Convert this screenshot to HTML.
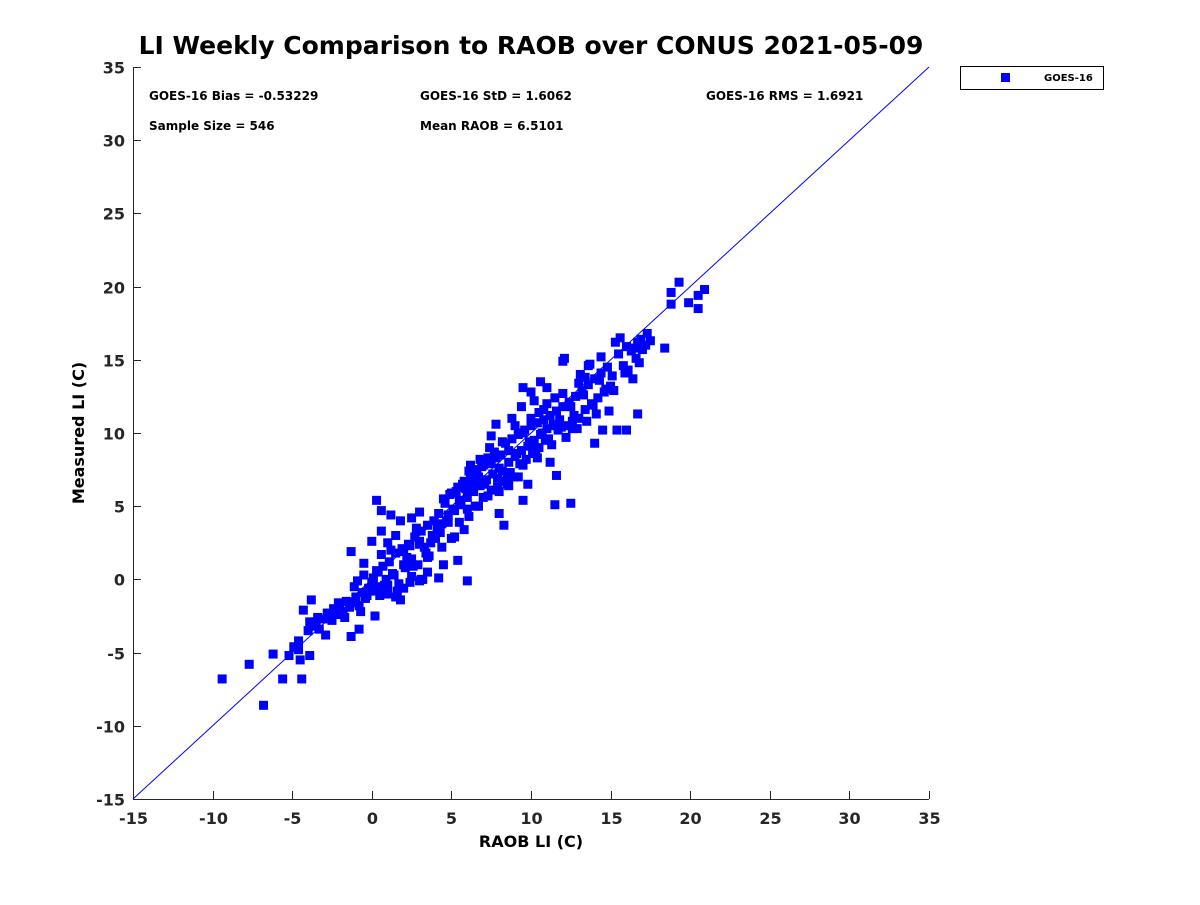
<!DOCTYPE html>
<html><head><meta charset="utf-8"><style>
html,body{margin:0;padding:0;background:#fff;}
svg text{font-family:"DejaVu Sans","Liberation Sans",sans-serif;font-weight:bold;}
</style></head><body>
<svg id="chart" width="1200" height="900" xmlns="http://www.w3.org/2000/svg">
<rect width="1200" height="900" fill="#fff"/>
<text x="531" y="54" font-size="25" text-anchor="middle">LI Weekly Comparison to RAOB over CONUS 2021-05-09</text>
<g id="axes"></g>
<g id="marks"></g>
<text x="149" y="100" font-size="12">GOES-16 Bias = -0.53229</text>
<text x="420" y="100" font-size="12">GOES-16 StD = 1.6062</text>
<text x="706" y="100" font-size="12">GOES-16 RMS = 1.6921</text>
<text x="149" y="130" font-size="12">Sample Size = 546</text>
<text x="420" y="130" font-size="12">Mean RAOB = 6.5101</text>
<g>
<rect x="960.5" y="66.5" width="143" height="23" fill="#fff" stroke="#000" stroke-width="1"/>
<rect x="1001" y="73" width="9" height="9" fill="#0000ff"/>
<text x="1044" y="81" font-size="10">GOES-16</text>
</g>
<text x="531" y="847" font-size="16" text-anchor="middle">RAOB LI (C)</text>
<text x="84" y="433" font-size="16" text-anchor="middle" transform="rotate(-90 84 433)">Measured LI (C)</text>
</svg>
<script>
const xTicks=[-15,-10,-5,0,5,10,15,20,25,30,35];
const yTicks=[-15,-10,-5,0,5,10,15,20,25,30,35];
const xs=[-9.4,-7.7,-6.8,-6.2,-5.6,-5.2,-4.9,-4.6,-4.4,-4.5,-4.6,-4.3,-3.9,-3.8,-1.3,-0.8,0.2,0.3,0.6,0.6,6.0,5.4,11.5,12.5,11.6,8.3,9.5,8.0,14.0,15.4,16.0,16.7,18.4,19.3,18.8,19.9,20.5,20.9,20.5,18.8,17.3,12.0,9.5,10.6,-1.3,
-4.0,-3.7,-3.5,-3.3,-3.0,-2.8,-2.6,-2.4,-2.2,-2.0,-1.8,-1.6,-1.4,-1.2,-1.0,-0.8,-0.6,-0.4,-0.2,0.0,-3.9,-3.4,-2.9,-2.5,-2.1,-1.7,-1.1,-0.9,-0.7,-0.5,-0.3,
0.1,0.3,0.5,0.7,0.9,1.1,1.3,1.5,1.7,1.9,2.1,2.3,2.5,2.7,2.9,3.1,3.3,3.5,3.7,3.9,0.2,0.6,1.0,1.4,1.8,2.2,2.6,3.0,3.4,3.8,0.4,0.8,1.2,1.6,2.0,2.4,2.8,3.2,3.6,4.0,
1.0,1.5,2.0,2.5,3.0,1.2,1.8,2.4,3.1,-0.5,-1.0,0.0,0.5,1.0,1.5,2.0,2.5,3.0,3.5,4.2,4.5,4.8,5.0,4.4,4.1,
4.2,4.4,4.6,4.8,5.0,5.2,5.4,5.6,5.8,6.0,6.2,6.4,6.6,6.8,7.0,7.2,7.4,7.6,7.8,8.0,4.3,4.7,5.1,5.5,5.9,6.3,6.7,7.1,7.5,7.9,4.5,4.9,5.3,5.7,6.1,6.5,6.9,7.3,7.7,8.1,
6.0,6.5,7.0,7.5,8.0,8.5,6.2,6.8,7.4,8.2,5.5,6.1,6.7,7.3,7.9,8.6,3.0,3.5,5.2,5.8,
8.2,8.4,8.6,8.8,9.0,9.2,9.4,9.6,9.8,10.0,10.2,10.4,10.6,10.8,11.0,11.2,11.4,11.6,11.8,12.0,8.3,8.7,9.1,9.5,9.9,10.3,10.7,11.1,11.5,11.9,8.5,8.9,9.3,9.7,10.1,10.5,10.9,11.3,11.7,
9.0,9.5,10.0,10.5,11.0,11.5,12.0,9.2,9.8,10.4,11.2,8.6,9.4,10.2,10.8,7.5,7.8,8.8,10.0,11.0,
12.2,12.4,12.6,12.8,13.0,13.2,13.4,13.6,13.8,14.0,14.2,14.4,14.6,14.8,15.0,12.3,12.7,13.1,13.5,13.9,14.3,14.7,15.1,12.5,12.9,13.3,13.7,14.1,14.5,12.1,12.6,13.0,13.6,14.4,15.2,
15.5,15.8,16.0,16.3,16.6,16.9,17.2,17.5,15.6,16.1,16.5,16.8,15.3,16.4,16.7,13.4,14.9,15.9,17.0];
const ys=[-6.8,-5.8,-8.6,-5.1,-6.8,-5.2,-4.6,-4.8,-6.8,-5.5,-4.2,-2.1,-5.2,-1.4,-3.9,-3.4,-2.5,5.4,3.3,4.7,-0.1,1.3,5.1,5.2,7.1,3.7,5.4,4.5,9.3,10.2,10.2,11.3,15.8,20.3,19.6,18.9,19.4,19.8,18.5,18.8,16.8,14.9,13.1,13.5,1.9,
-3.5,-3.2,-2.9,-3.4,-2.7,-2.3,-2.5,-2.0,-2.4,-1.8,-2.2,-1.5,-1.9,-1.6,-1.2,-1.8,-0.9,-1.3,-0.6,-0.2,-2.9,-2.6,-3.8,-2.8,-1.6,-2.6,-0.5,-0.1,-2.2,0.3,-1.1,
0.1,0.6,-0.5,0.9,0.0,1.2,0.4,1.8,-0.3,2.1,0.8,2.4,1.4,2.9,1.0,3.3,2.2,3.7,2.5,4.0,-0.8,1.7,-1.0,0.3,-1.4,1.5,0.9,2.6,1.8,3.0,0.5,-0.4,2.0,-0.8,1.0,-0.2,3.5,0.0,1.6,2.8,
2.5,3.0,1.9,4.2,4.6,4.4,4.0,2.3,0.0,1.1,-1.5,2.6,-1.1,-0.4,-1.2,-0.6,0.2,-0.1,0.5,0.1,1.0,3.9,2.8,2.2,3.5,
4.5,3.8,5.2,4.4,5.9,4.7,6.3,5.1,6.7,5.6,7.1,6.0,7.5,6.4,7.8,6.8,8.1,7.2,8.3,7.6,3.2,4.0,4.8,5.4,6.2,6.6,7.0,6.5,7.9,6.9,5.5,5.8,6.0,6.5,7.4,7.2,7.7,8.3,8.7,8.5,
4.8,5.0,5.6,6.1,6.0,6.8,7.8,8.2,9.0,9.4,3.9,4.3,5.0,5.7,6.3,6.4,2.4,1.5,2.9,3.4,
7.4,9.3,8.0,9.6,8.4,9.9,8.8,10.2,9.1,10.5,9.5,10.7,9.9,10.9,10.3,11.2,10.6,11.5,10.9,11.8,6.7,7.3,8.6,7.8,9.4,8.9,10.0,9.6,10.5,10.4,6.5,7.0,7.9,8.2,8.6,9.0,9.5,9.2,10.2,
10.5,10.0,11.0,11.4,12.0,12.4,12.7,7.0,6.5,8.3,8.0,8.8,11.8,12.2,11.6,9.8,10.6,11.0,12.8,13.1,
9.7,12.1,10.3,12.5,11.0,12.9,11.6,13.3,12.0,13.7,12.4,14.1,12.8,14.5,13.2,10.5,11.2,14.0,10.8,11.9,13.6,13.0,13.9,11.8,10.3,12.6,14.7,11.3,10.2,15.1,10.8,13.4,14.6,15.2,12.9,15.4,
14.6,15.9,15.6,15.1,16.4,16.0,16.3,16.5,14.3,15.8,14.8,16.2,13.7,16.2,13.8,11.5,14.1,15.7,16.1];
const X0=133,X1=929,Y0=799,Y1=67;
function sx(v){return X0+(v-(-15))/(50)*(X1-X0);}
function sy(v){return Y0-(v-(-15))/(50)*(Y0-Y1);}
const NS='http://www.w3.org/2000/svg';
function mk(t,a,p){const e=document.createElementNS(NS,t);for(const k in a)e.setAttribute(k,a[k]);p.appendChild(e);return e;}
const ax=document.getElementById('axes');
let l=mk('line',{x1:X0,y1:Y0+0.5,x2:X1,y2:Y0+0.5,stroke:'#262626','stroke-width':1},ax);


l=mk('line',{x1:X0+0.5,y1:Y0,x2:X0+0.5,y2:Y1,stroke:'#262626','stroke-width':1},ax);


xTicks.forEach(v=>{const x=Math.round(sx(v))+0.5;
 mk('line',{x1:x,y1:Y0,x2:x,y2:Y0-8,stroke:'#262626'},ax);
 const t=mk('text',{x:x,y:Y0+25,'font-size':16,'text-anchor':'middle',fill:'#262626'},ax);t.textContent=v;
 
 });
yTicks.forEach(v=>{const y=Math.round(sy(v))+0.5;
 mk('line',{x1:X0,y1:y,x2:X0+8,y2:y,stroke:'#262626'},ax);
 const t=mk('text',{x:X0-8,y:y+6,'font-size':16,'text-anchor':'end',fill:'#262626'},ax);t.textContent=v;
 
 });
const ref=mk('line',{x1:sx(-15),y1:sy(-15),x2:sx(35),y2:sy(35),stroke:'#0000ff','stroke-width':1},ax);


const g=document.getElementById('marks');
for(let i=0;i<xs.length;i++){
 const r=mk('rect',{x:sx(xs[i])-4.5,y:sy(ys[i])-4.5,width:9,height:9,fill:'#0000ff'},g);
 
 
}
</script>
</body></html>
